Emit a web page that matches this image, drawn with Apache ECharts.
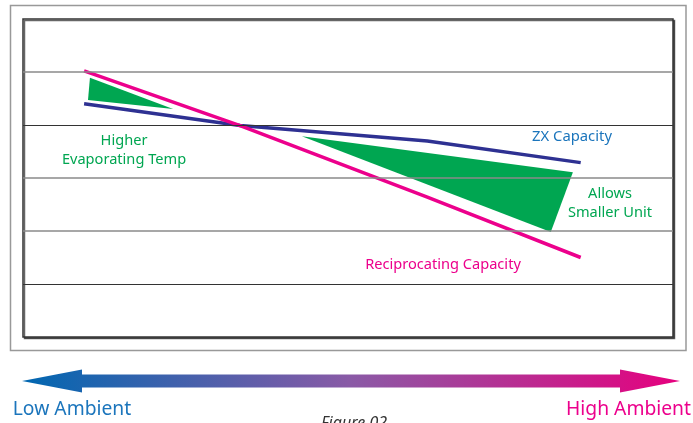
<!DOCTYPE html>
<html>
<head>
<meta charset="utf-8">
<script src="https://cdn.jsdelivr.net/npm/echarts@6/dist/echarts.min.js"></script>
<style>
html,body{margin:0;padding:0;background:#fff;}
#chart{width:693px;height:423px;}
</style>
</head>
<body>
<div id="chart"></div>
<script>
// x: relative ambient position (0 = low, 100 = high), y: relative capacity (0..6 bands)
const zxCapacity = [[9.4, 4.40], [33.4, 3.99], [62.2, 3.70], [85.8, 3.29]];
const recipCapacity = [[9.4, 5.02], [33.4, 3.99], [62.2, 2.64], [85.8, 1.50]];
const evapTempGain = [[10.3, 4.89], [10.0, 4.47], [23.1, 4.30]];
const smallerUnitGain = [[42.9, 3.79], [84.6, 3.11], [81.2, 1.98]];
const gridDark = [1, 4];
const gridLight = [2, 3, 5];

const FONT = '"Noto Sans", "Open Sans", sans-serif';
const GREEN = '#00a651';
const PINK = '#ec008c';
const NAVY = '#2e3192';

const chart = echarts.init(document.getElementById('chart'), null, {renderer: 'canvas'});

function triangle(name, data) {
  return {
    name: name,
    type: 'custom',
    z: 1,
    silent: true,
    renderItem: function (params, api) {
      if (params.dataIndex !== 0) return;
      const pts = data.map(p => api.coord(p));
      return {type: 'polygon', shape: {points: pts}, style: {fill: GREEN}};
    },
    data: data
  };
}

const gridLines = gridDark.map(v => ({yAxis: v, lineStyle: {color: '#333', width: 1.2, type: 'solid'}}))
  .concat(gridLight.map(v => ({yAxis: v, lineStyle: {color: '#8a8a8a', width: 1.5, type: 'solid'}})));

chart.setOption({
  animation: false,
  backgroundColor: '#fff',
  grid: {
    left: 23, top: 19, width: 650, height: 318,
    show: true, backgroundColor: '#fff', borderColor: '#333', borderWidth: 1.5,
    shadowColor: 'rgba(0,0,0,0.6)', shadowOffsetX: 1.5, shadowOffsetY: 1.5, shadowBlur: 0
  },
  xAxis: {type: 'value', min: 0, max: 100, show: false},
  yAxis: {type: 'value', min: 0, max: 6, interval: 1, show: false},
  graphic: [
    {type: 'rect', z: -10, shape: {x: 10.5, y: 5.5, width: 675.5, height: 345}, style: {fill: 'none', stroke: '#999', lineWidth: 1.5}},
    {type: 'polygon', z: 10, shape: {points: [[22, 381], [82, 369.5], [82, 374.5], [620, 374.5], [620, 369.5], [680, 381], [620, 392.5], [620, 387.5], [82, 387.5], [82, 392.5]]},
      style: {fill: new echarts.graphic.LinearGradient(0, 0, 1, 0, [
        {offset: 0, color: '#0067b1'}, {offset: 0.5, color: '#8a5aa6'}, {offset: 1, color: '#e6007e'}])}},
    {type: 'text', z: 10, style: {text: 'Higher', x: 124, y: 141, align: 'center', verticalAlign: 'middle', font: '14.6px ' + FONT, fill: GREEN}},
    {type: 'text', z: 10, style: {text: 'Evaporating Temp', x: 124, y: 160, align: 'center', verticalAlign: 'middle', font: '14.6px ' + FONT, fill: GREEN}},
    {type: 'text', z: 10, style: {text: 'ZX Capacity', x: 572, y: 137, align: 'center', verticalAlign: 'middle', font: '14.8px ' + FONT, fill: '#1b75bc'}},
    {type: 'text', z: 10, style: {text: 'Allows', x: 610, y: 194, align: 'center', verticalAlign: 'middle', font: '14.6px ' + FONT, fill: GREEN}},
    {type: 'text', z: 10, style: {text: 'Smaller Unit', x: 610, y: 213, align: 'center', verticalAlign: 'middle', font: '14.6px ' + FONT, fill: GREEN}},
    {type: 'text', z: 10, style: {text: 'Reciprocating Capacity', x: 443, y: 265, align: 'center', verticalAlign: 'middle', font: '14.6px ' + FONT, fill: PINK}},
    {type: 'text', z: 10, style: {text: 'Low Ambient', x: 72, y: 410, align: 'center', verticalAlign: 'middle', font: '19.3px ' + FONT, fill: '#1b75bc'}},
    {type: 'text', z: 10, style: {text: 'High Ambient', x: 628.5, y: 410, align: 'center', verticalAlign: 'middle', font: '19.3px ' + FONT, fill: PINK}},
    {type: 'text', z: 10, style: {text: 'Figure 02', x: 354, y: 415.5, align: 'center', verticalAlign: 'top', font: 'italic 16px ' + FONT, fill: '#333'}}
  ],
  series: [
    triangle('Higher Evaporating Temp', evapTempGain),
    triangle('Allows Smaller Unit', smallerUnitGain),
    {
      name: 'ZX Capacity', type: 'line', data: zxCapacity, z: 3, symbol: 'none',
      lineStyle: {color: NAVY, width: 3.5}, silent: true,
      markLine: {silent: true, symbol: 'none', label: {show: false}, data: gridLines}
    },
    {
      name: 'Reciprocating Capacity', type: 'line', data: recipCapacity, z: 4, symbol: 'none',
      lineStyle: {color: PINK, width: 3.5}, silent: true
    }
  ]
});
</script>
</body>
</html>
